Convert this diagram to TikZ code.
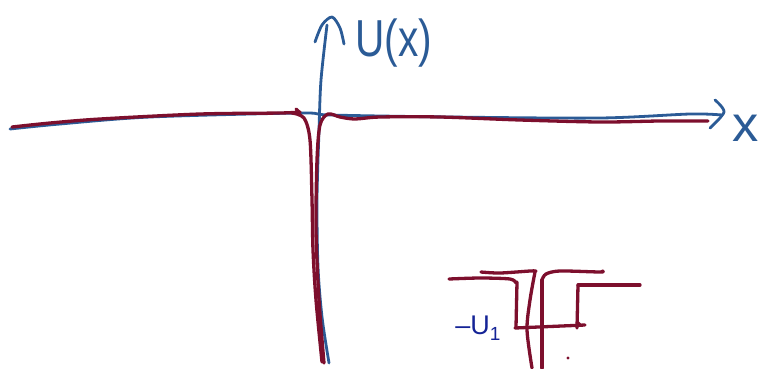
\documentclass[tikz,border=0pt]{standalone}
\usepackage{fontspec}
\setsansfont{Liberation Sans}
\definecolor{axblue}{RGB}{43,91,150}
\definecolor{potred}{RGB}{125,15,45}
\definecolor{lblue}{RGB}{20,35,150}
\begin{document}
\begin{tikzpicture}[x=1pt,y=-1pt,
  axis/.style={axblue,line width=2.8pt,line cap=round,line join=round},
  pot/.style={potred,line width=3.3pt,line cap=round,line join=round},
  lbl/.style={inner sep=0pt,anchor=center}]
\useasboundingbox (0,0) rectangle (760,368);
% x axis
\draw[axis] plot[smooth] coordinates {(10,129) (60,124) (150,117) (300,113) (330,115) (450,117) (600,118) (690,114) (722,115)};
\draw[axis] plot[smooth] coordinates {(715,100) (724,112) (710,128)};
% y axis
\draw[axis] plot[smooth] coordinates {(329,363) (322,317) (318,267) (317,200) (319,130) (321,80) (327,25)};
\draw[axis] plot[smooth] coordinates {(315,42) (322,25) (332,17) (340,28) (344,44)};
% labels
\node[lbl,axblue,font={\sffamily\fontsize{52}{52}\selectfont},xscale=0.78] (U) at (394,43) {U(x)};
\node[lbl,axblue,font={\sffamily\fontsize{50}{50}\selectfont},anchor=west,xscale=1.05] (X) at (732,128) {x};
% potential
\draw[pot] plot[smooth] coordinates {(12,127) (50,123) (100,119) (200,114) (280,113) (300,112)};
\draw[pot] (296,109) -- (300,113);
\draw[pot] plot[smooth] coordinates {(292,113) (304,118) (310,140) (312,200) (313,250) (316,300) (322,362)};
\draw[pot] plot[smooth] coordinates {(324,363) (319,300) (316,230) (317,160) (320,125) (328,114) (340,117) (355,119) (380,117) (440,117) (520,120) (600,122) (660,121) (708,121)};
% lower right sketch
\draw[pot] plot[smooth] coordinates {(449,279) (480,278) (510,279) (516,283)};
\draw[pot] (517,282) -- (516,327);
\draw[pot] (515,328) -- (585,325);
\draw[pot] (578,285) -- (577,328);
\draw[pot] (578,285) -- (640,285);
\draw[pot] (577,322) -- (580,325);
\draw[pot] plot[smooth] coordinates {(481,272) (500,273) (530,271) (536,271)};
\draw[pot] plot[smooth] coordinates {(535,272) (530,300) (527,330) (532,368)};
\draw[pot] plot[smooth] coordinates {(542,280) (546,274) (560,271) (600,272) (602,271)};
\draw[pot] (542,280) -- (542,368);
\fill[potred] (568,358) circle (1.6pt);
\node[lbl,lblue,font={\sffamily\fontsize{27}{27}\selectfont}] (L) at (478,328) {–U\raisebox{-0.4ex}{\fontsize{19}{19}\selectfont 1}};
\end{tikzpicture}
\end{document}
